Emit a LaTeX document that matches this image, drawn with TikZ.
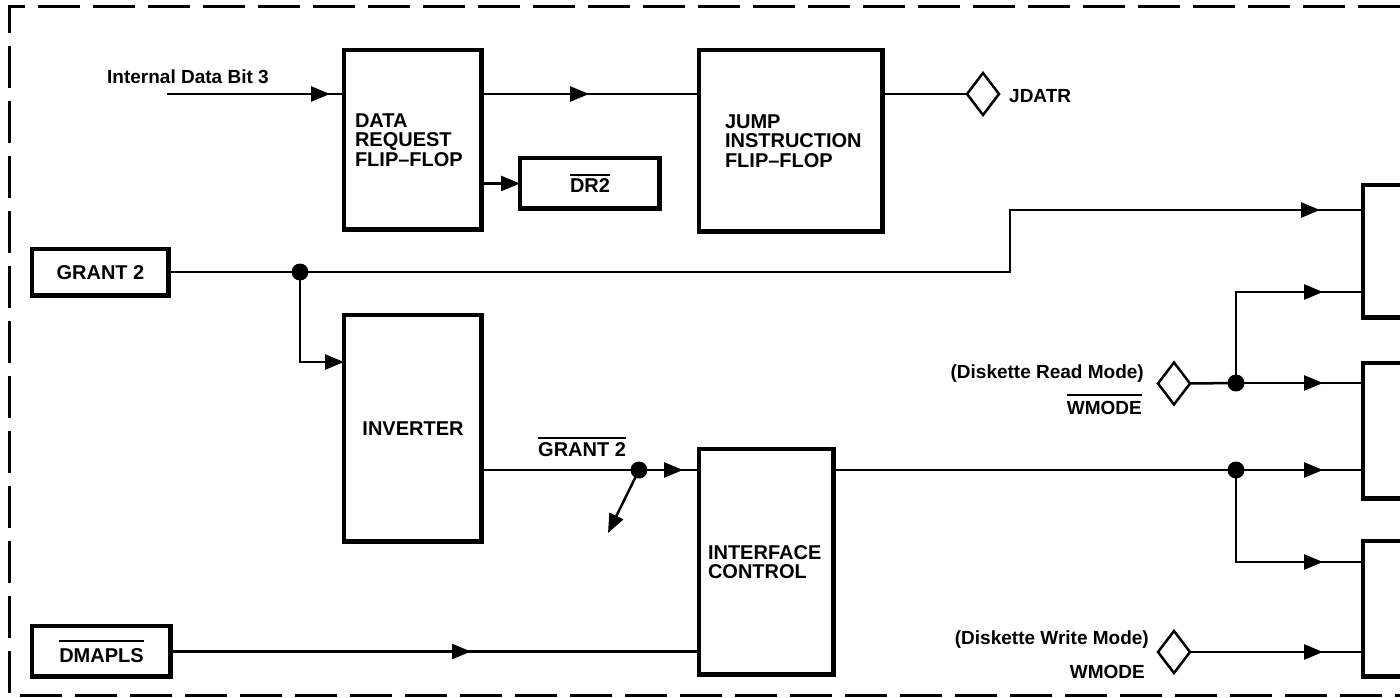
\documentclass[tikz,border=0pt]{standalone}
\usepackage{fontspec}
\setmainfont{Liberation Sans}
\usetikzlibrary{arrows.meta,shapes.geometric,decorations.markings}
\newcommand{\olin}[2][4pt]{\setbox0\hbox{#2}\leavevmode\rlap{\rule[\dimexpr\ht0+#1\relax]{\wd0}{2pt}}\box0}
\begin{document}
\begin{tikzpicture}[x=1pt,y=-1pt,
  every node/.style={font=\fontsize{19}{19.5}\selectfont\bfseries},
  boxtxt/.style={font=\fontsize{20}{19.5}\selectfont\bfseries},
  blk/.style={draw, line width=3.5pt, inner sep=0pt, outer sep=0pt, boxtxt},
  wire/.style={line width=2.5pt},
  tip/.style={-{Triangle[length=19pt,width=15pt]}},
  midarr/.style={postaction={decorate},decoration={markings,mark=at position #1 with {\arrow{Triangle[length=19pt,width=15pt]}}}},
  dot/.style={circle, fill, inner sep=0pt, minimum size=17pt},
  dia/.style={draw, diamond, line width=2.5pt, inner sep=0pt, outer sep=0pt, minimum width=32pt, minimum height=42pt},
  lbl/.style={inner sep=0pt, anchor=base west},
  lble/.style={inner sep=0pt, anchor=base east},
]
\useasboundingbox (0,0) rectangle (1400,698);
% frame
\draw[line width=3pt, dash pattern=on 42pt off 13pt] (1400,7) -- (9,7) -- (9,695) -- (1400,695);

% blocks
\node[blk, minimum width=138pt, minimum height=180pt, text width=116pt, align=left] (dr) at (413,140) {DATA\\REQUEST\\FLIP--FLOP\\[-6pt]};
\node[blk, minimum width=184pt, minimum height=182pt, text width=132pt, align=left] (jump) at (791,141) {JUMP\\INSTRUCTION\\FLIP--FLOP\\[-6pt]};
\node[blk, minimum width=140pt, minimum height=51pt] (dr2) at (590,183.5) {\olin[3pt]{DR2}};
\node[blk, minimum width=137pt, minimum height=47pt] (g2) at (100.5,272.5) {GRANT 2};
\node[blk, minimum width=139pt, minimum height=51pt] (dm) at (101.5,651.5) {\olin[6pt]{DMAPLS}};
\node[blk, minimum width=138pt, minimum height=227pt] (inv) at (413,428.5) {INVERTER};
\node[blk, minimum width=135pt, minimum height=226pt, text width=117pt, align=left] (ifc) at (766.5,562) {INTERFACE\\CONTROL};
\node[blk, minimum width=100pt, minimum height=133pt] (rA) at (1413,251.5) {};
\node[blk, minimum width=100pt, minimum height=136pt] (rB) at (1413,431) {};
\node[blk, minimum width=100pt, minimum height=136pt] (rC) at (1413,609) {};
\foreach \n in {dr,jump,inv,ifc,dr2,g2,dm}
  \draw[line width=2.5pt] ([xshift=-2pt]\n.north east) -- ([xshift=-2pt,yshift=2pt]\n.south east) -- ([yshift=2pt]\n.south west);
\foreach \n in {rA,rB,rC}
  \draw[line width=2.5pt] ([yshift=2pt]\n.south west) -- ([yshift=2pt]\n.south east);

% diamonds
\node[dia] (jd) at (983,94) {};
\node[dia] (rd) at (1174,383.5) {};
\node[dia] (wd) at (1174,652) {};

% labels
\node[lbl] (l1) at (107,84) {Internal Data Bit 3};
\node[lbl] (l2) at (1009,103) {JDATR};
\node[lble] (l3) at (1144,378) {(Diskette Read Mode)};
\node[lble] (l4) at (1142,414) {\olin[5pt]{WMODE}};
\node[lble] (l5) at (1149,644) {(Diskette Write Mode)};
\node[lble] (l6) at (1145,678) {WMODE};
\node[lbl, font=\fontsize{20}{20}\selectfont\bfseries] (l7) at (538,456) {\olin[3pt]{GRANT 2}};

% junction dots
\node[dot] (j1) at (300,272) {};
\node[dot] (j2) at (639,470) {};
\node[dot] (jw) at (1236,470) {};
\node[dot] (jr) at (1236,383) {};

% bend / free-end coordinates
\coordinate (in1) at (167,94);
\coordinate (b1) at (1010,272);
\coordinate (b2) at (1010,210);
\coordinate (i1) at (300,362);
\coordinate (dg) at (608,533);
\coordinate (b3) at (1236,562);
\coordinate (b4) at (1236,292);

% connectors
\draw[wire, midarr=-14pt] (in1) -- (dr.west |- in1);
\draw[wire, midarr=-110pt] (dr.east |- in1) -- (jump.west |- in1);
\draw[wire] (jump.east |- jd) -- (jd.west);
\draw[wire, tip] (dr.east |- dr2.west) -- (dr2.west);
\draw[wire] (g2.east |- j1) -- (j1.center);
\draw[wire, midarr=-43pt] (j1.center) -- (b1) -- (b2) -- (rA.west |- b2);
\draw[wire, tip] (j1.center) -- (i1) -- (inv.west |- i1);
\draw[wire] (inv.east |- j2) -- (j2.center);
\draw[wire, midarr=-16pt] (j2.center) -- (ifc.west |- j2);
\draw[wire, tip] (j2.center) -- (dg);
\draw[wire, midarr=-228pt] (dm.east) -- (ifc.west |- dm.east);
\draw[wire] (ifc.east |- jw) -- (jw.center);
\draw[wire, midarr=-40pt] (jw.center) -- (rB.west |- jw);
\draw[wire, midarr=-40pt] (jw.center) -- (b3) -- (rC.west |- b3);
\draw[wire] (rd.east) -- (jr.center);
\draw[wire, midarr=-40pt] (jr.center) -- (rB.west |- jr);
\draw[wire, midarr=-40pt] (jr.center) -- (b4) -- (rA.west |- b4);
\draw[wire, midarr=-40pt] (wd.east) -- (rC.west |- wd.east);
\end{tikzpicture}
\end{document}
